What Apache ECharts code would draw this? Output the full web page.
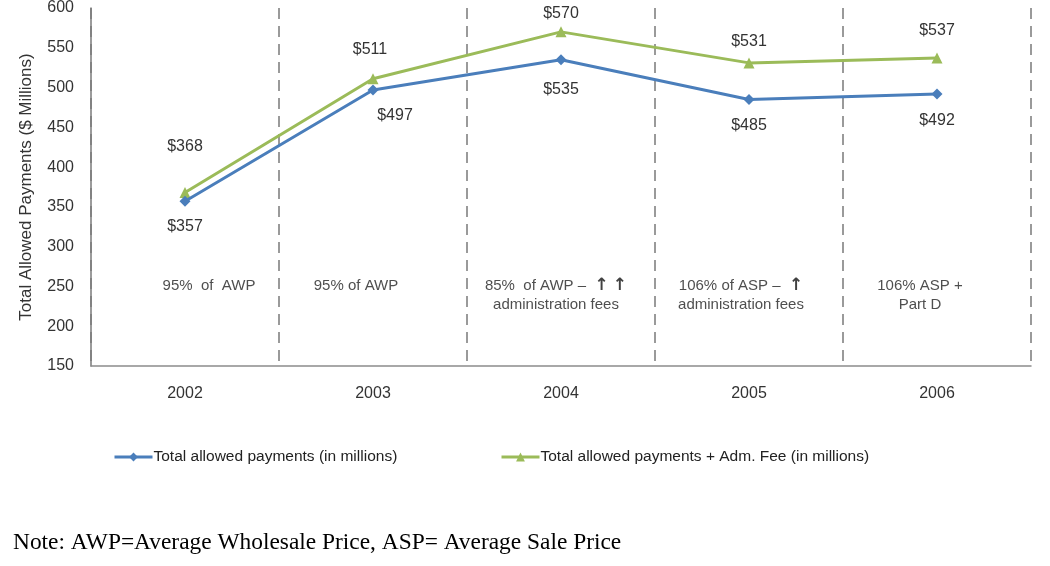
<!DOCTYPE html>
<html><head><meta charset="utf-8">
<script src="https://cdn.jsdelivr.net/npm/echarts@6/dist/echarts.min.js"></script>
<style>html,body{margin:0;padding:0;background:#fff}#c{width:1050px;height:566px}</style>
</head><body><div id="c"></div>
<script>
var years = ['2002','2003','2004','2005','2006'];
var payments = [357, 497, 535, 485, 492];
var paymentsAdm = [368, 511, 570, 531, 537];
var policies = ['95%  of  AWP', '95% of AWP', '85%  of AWP –  {a|↑} {a|↑}\nadministration fees', '106% of ASP –  {a|↑}\nadministration fees', '106% ASP +\nPart D'];
var annotationLevel = [250, 250, 250, 250, 250];
var seriesNames = ['Total allowed payments (in millions)', 'Total allowed payments + Adm. Fee (in millions)'];

var FONT = 'Liberation Sans, Arial, sans-serif';
var chart = echarts.init(document.getElementById('c'), null, {renderer:'canvas'});
var greenOffsets = [[0,-22],[-3,-6],[0,5],[0,2],[0,-4]];
var blueOffsets = [[0,2],[22,2],[0,6],[0,3],[0,3]];
var annOffsets = [[24,0],[-17,0],[-5,0],[-8,0],[-17,0]];
chart.setOption({
  animation:false,
  title:{text:'Note: AWP=Average Wholesale Price, ASP= Average Sale Price', left:8, top:526,
    textStyle:{fontFamily:'Liberation Serif, Times New Roman, serif', fontSize:23.4, fontWeight:'normal', color:'#000'}},
  legend:[
    {data:[seriesNames[0]], left:108, top:444, itemWidth:38, itemHeight:11, itemGap:0,
      lineStyle:{width:3},
      textStyle:{fontFamily:FONT, fontSize:15.5, color:'#222', padding:[0,0,0,-4]}},
    {data:[seriesNames[1]], left:495, top:444, itemWidth:38, itemHeight:11, itemGap:0,
      lineStyle:{width:3},
      textStyle:{fontFamily:FONT, fontSize:15.5, color:'#222', padding:[0,0,0,-4]}}
  ],
  grid:{left:91, right:19, top:5, bottom:200},
  xAxis:{type:'category', data:years, boundaryGap:true,
    axisLine:{lineStyle:{color:'#8c8c8c', width:1.5}},
    axisTick:{show:false},
    axisLabel:{fontFamily:FONT, fontSize:16, color:'#333', margin:20},
    splitLine:{show:true, lineStyle:{color:'#9a9a9a', width:2, type:[11,7]}}
  },
  yAxis:{type:'value', min:150, max:600, interval:50,
    name:'Total Allowed Payments ($ Millions)', nameLocation:'middle', nameGap:56,
    nameTextStyle:{fontFamily:FONT, fontSize:17, color:'#333'},
    axisLine:{show:true, lineStyle:{color:'#7a7a7a', width:1.5}},
    axisTick:{show:false},
    axisLabel:{fontFamily:FONT, fontSize:16, color:'#333', margin:17},
    splitLine:{show:false}
  },
  series:[
    {name:seriesNames[0], type:'line', data:payments.map(function(v,i){return {value:v, label:{offset:blueOffsets[i]}};}),
      symbol:'diamond', symbolSize:11, itemStyle:{color:'#4a7ebb'}, lineStyle:{color:'#4a7ebb', width:3},
      label:{show:true, position:'bottom', distance:10, formatter:function(p){return '$'+p.value;},
        fontFamily:FONT, fontSize:16, color:'#333'}, z:3},
    {name:seriesNames[1], type:'line', data:paymentsAdm.map(function(v,i){return {value:v, label:{offset:greenOffsets[i]}};}),
      symbol:'triangle', symbolSize:11, itemStyle:{color:'#9bbb59'}, lineStyle:{color:'#9bbb59', width:3},
      label:{show:true, position:'top', distance:10, formatter:function(p){return '$'+p.value;},
        fontFamily:FONT, fontSize:16, color:'#333'}, z:2},
    {name:'policy', type:'scatter', symbolSize:0, silent:true,
      data:annotationLevel.map(function(v,i){return {value:v, label:{offset:annOffsets[i]}};}),
      label:{show:true, position:'bottom', distance:-10, formatter:function(p){return policies[p.dataIndex];},
        fontFamily:FONT, fontSize:15, color:'#222', lineHeight:19, align:'center',
        rich:{a:{fontFamily:'DejaVu Sans, sans-serif', fontSize:17, fontWeight:'bold', color:'#111', lineHeight:19}}}}
  ]
});
</script></body></html>
